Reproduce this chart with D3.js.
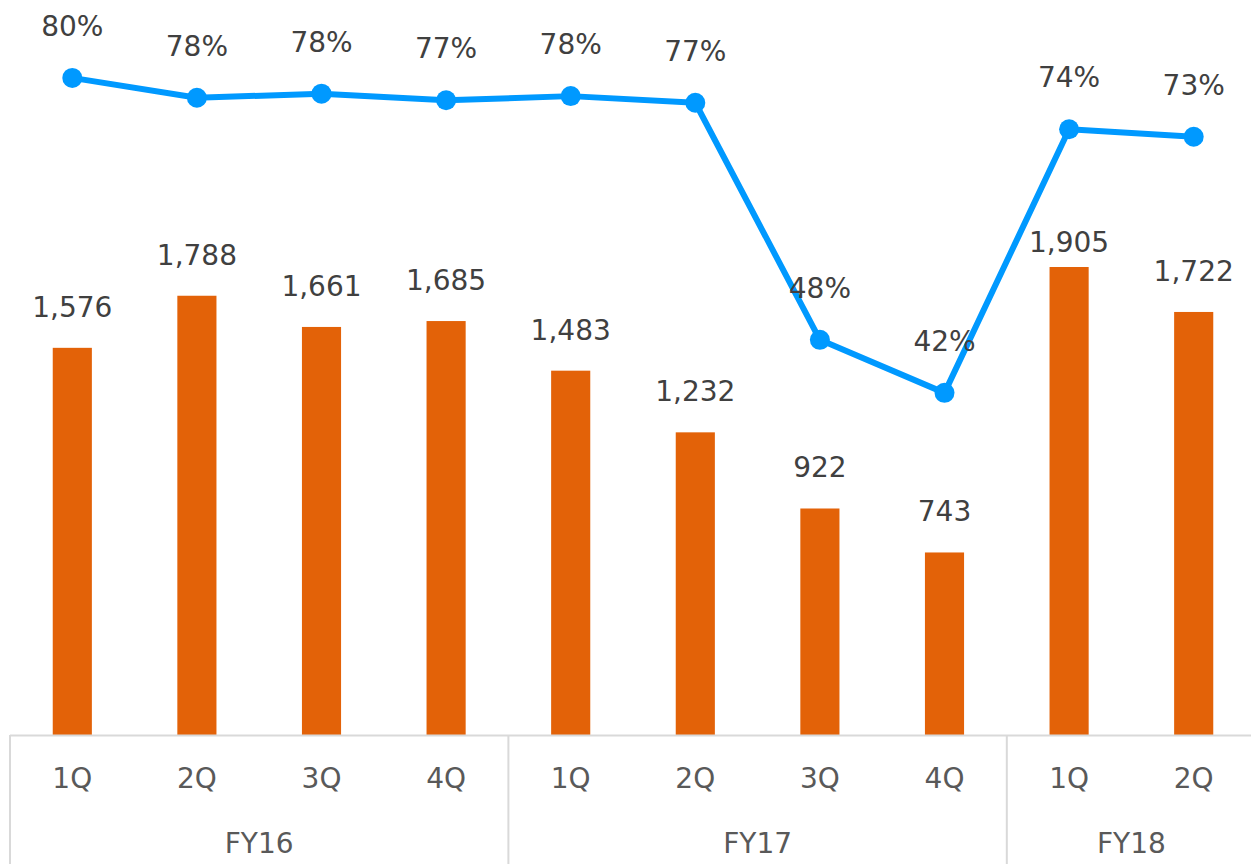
<!DOCTYPE html>
<html lang="en">
<head>
    <meta charset="UTF-8">
    <title>Quarterly chart</title>
    <script src="https://cdn.jsdelivr.net/npm/d3@7"></script>
    <style>
        html, body { margin: 0; padding: 0; background: #fff; }
        svg { display: block; }
        text { font-family: "DejaVu Sans", Verdana, sans-serif; }
    </style>
</head>
<body>
    <div id="chart"></div>
    <script>
        // data
        const quarters = ["1Q", "2Q", "3Q", "4Q", "1Q", "2Q", "3Q", "4Q", "1Q", "2Q"];
        const years = ["FY16", "FY17", "FY18"];
        const yearSizes = [4, 4, 2];
        const barValues = [1576, 1788, 1661, 1685, 1483, 1232, 922, 743, 1905, 1722];
        const rateValues = [0.800, 0.776, 0.781, 0.773, 0.778, 0.770, 0.484, 0.420, 0.738, 0.729];

        const W = 1251, H = 864;
        const base = 735;

        const svg = d3.select("#chart")
            .append("svg")
            .attr("width", W)
            .attr("height", H);

        // scales
        const x = d3.scaleBand()
            .domain(d3.range(quarters.length))
            .range([10, 1256])
            .paddingInner(0.686)
            .paddingOuter(0.343);

        const y = d3.scaleLinear().domain([0, 3000]).range([base, -2]);
        const y2 = d3.scaleLinear().domain([0, 0.9]).range([741, -5]);

        const cx = i => x(i) + x.bandwidth() / 2;

        // bars
        svg.selectAll(".bar")
            .data(barValues)
            .enter().append("rect")
            .attr("class", "bar")
            .attr("x", (d, i) => x(i))
            .attr("y", d => y(d))
            .attr("width", x.bandwidth())
            .attr("height", d => base - y(d))
            .attr("fill", "#e36208");

        // bar labels (the 1,905 one sits closer to its bar)
        svg.selectAll(".bar-label")
            .data(barValues)
            .enter().append("text")
            .attr("class", "bar-label")
            .attr("x", (d, i) => cx(i))
            .attr("y", (d, i) => y(d) - (i === 8 ? 15 : 31))
            .attr("text-anchor", "middle")
            .attr("font-size", "28px")
            .attr("fill", "#404040")
            .text(d => d3.format(",")(d));

        // axis
        const step = x.step();
        svg.append("line")
            .attr("x1", 10).attr("x2", W)
            .attr("y1", base + 0.5).attr("y2", base + 0.5)
            .attr("stroke", "#d9d9d9").attr("stroke-width", 2);

        let start = 0;
        const groups = years.map((name, k) => {
            const g = { name, start, end: start + yearSizes[k] };
            start += yearSizes[k];
            return g;
        });

        groups.forEach(g => {
            const gx = 10 + g.start * step;
            svg.append("line")
                .attr("x1", gx).attr("x2", gx)
                .attr("y1", base).attr("y2", H)
                .attr("stroke", "#d9d9d9").attr("stroke-width", 2);
            svg.append("text")
                .attr("x", 10 + (g.start + g.end) / 2 * step)
                .attr("y", 853)
                .attr("text-anchor", "middle")
                .attr("font-size", "28px")
                .attr("fill", "#595959")
                .text(g.name);
        });

        svg.selectAll(".q-label")
            .data(quarters)
            .enter().append("text")
            .attr("class", "q-label")
            .attr("x", (d, i) => cx(i))
            .attr("y", 788)
            .attr("text-anchor", "middle")
            .attr("font-size", "28px")
            .attr("fill", "#595959")
            .text(d => d);

        // rate line
        const line = d3.line()
            .x((d, i) => cx(i))
            .y(d => y2(d));

        svg.append("path")
            .datum(rateValues)
            .attr("d", line)
            .attr("fill", "none")
            .attr("stroke", "#0099ff")
            .attr("stroke-width", 6)
            .attr("stroke-linejoin", "round");

        svg.selectAll(".dot")
            .data(rateValues)
            .enter().append("circle")
            .attr("class", "dot")
            .attr("cx", (d, i) => cx(i))
            .attr("cy", d => y2(d))
            .attr("r", 10)
            .attr("fill", "#0099ff");

        svg.selectAll(".rate-label")
            .data(rateValues)
            .enter().append("text")
            .attr("class", "rate-label")
            .attr("x", (d, i) => cx(i))
            .attr("y", d => y2(d) - 42)
            .attr("text-anchor", "middle")
            .attr("font-size", "28px")
            .attr("fill", "#404040")
            .text(d => d3.format(".0%")(d));
    </script>
</body>
</html>
